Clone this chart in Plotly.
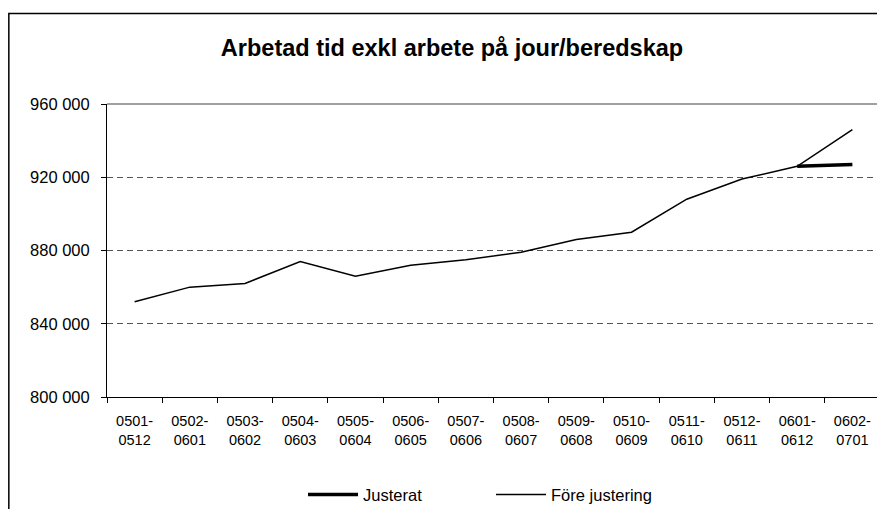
import plotly.graph_objects as go

categories = ["0501-<br>0512", "0502-<br>0601", "0503-<br>0602", "0504-<br>0603", "0505-<br>0604",
              "0506-<br>0605", "0507-<br>0606", "0508-<br>0607", "0509-<br>0608", "0510-<br>0609",
              "0511-<br>0610", "0512-<br>0611", "0601-<br>0612", "0602-<br>0701"]
fore_justering = [852000, 860000, 862000, 874000, 866000, 872000, 875000, 879000, 886000, 890000,
                  908000, 919000, 926000, 946000]
justerat = [None] * 12 + [926000, 927000]
y_ticks = [800000, 840000, 880000, 920000, 960000]
y_tick_labels = ["800 000", "840 000", "880 000", "920 000", "960 000"]

FONT = "Liberation Sans, Arial, sans-serif"

fig = go.Figure()
fig.add_trace(go.Scatter(x=categories, y=justerat, mode="lines", name="Justerat",
                         line=dict(color="black", width=3.5), connectgaps=False, legend="legend"))
fig.add_trace(go.Scatter(x=categories, y=fore_justering, mode="lines", name="Före justering",
                         line=dict(color="black", width=1.5), legend="legend2"))

fig.update_layout(
    width=877, height=501,
    margin=dict(l=99, r=5, t=96, b=112, autoexpand=False),
    paper_bgcolor="white", plot_bgcolor="white",
    font=dict(family=FONT, size=13, color="black"),
    title=dict(text="<b>Arbetad tid exkl arbete på jour/beredskap</b>", x=0.5063, xanchor="center",
               y=0.920, yanchor="middle", font=dict(family=FONT, size=23.5, color="black")),
    showlegend=True,
    legend=dict(orientation="h", x=0.2536, xanchor="left", y=-0.334, yanchor="middle",
                font=dict(family=FONT, size=16.5), itemwidth=50, bgcolor="rgba(0,0,0,0)"),
    legend2=dict(orientation="h", x=0.4968, xanchor="left", y=-0.334, yanchor="middle",
                 font=dict(family=FONT, size=16.5), itemwidth=50, bgcolor="rgba(0,0,0,0)"),
    xaxis=dict(type="category", range=[-0.5, 13.5], tickson="boundaries", ticks="outside",
               ticklen=5, tickcolor="black", automargin=False, ticklabelstandoff=11,
               showline=True, linecolor="black", linewidth=1, showgrid=False,
               tickfont=dict(family=FONT, size=14.5), mirror=False),
    yaxis=dict(range=[800000, 960000], tickvals=y_ticks, ticktext=y_tick_labels,
               ticks="outside", ticklen=5, tickcolor="black", showline=True, linecolor="black",
               linewidth=1, showgrid=True, gridcolor="#555555", griddash="6px,4px", gridwidth=1,
               tickfont=dict(family=FONT, size=16.5), zeroline=False, automargin=False,
               ticklabelstandoff=8),
)

# plot-area top and right border (grey)
fig.add_shape(type="line", xref="paper", yref="paper", x0=0, x1=1, y0=1, y1=1,
              line=dict(color="#808080", width=1.5))
fig.add_shape(type="line", xref="paper", yref="paper", x0=1, x1=1, y0=0, y1=1,
              line=dict(color="#808080", width=1.5))
# outer chart border
fig.add_shape(type="rect", xref="paper", yref="paper", x0=-0.127, x1=1.03, y0=-0.45, y1=1.309,
              line=dict(color="black", width=1.5), layer="below")

fig.write_html("out.html")
